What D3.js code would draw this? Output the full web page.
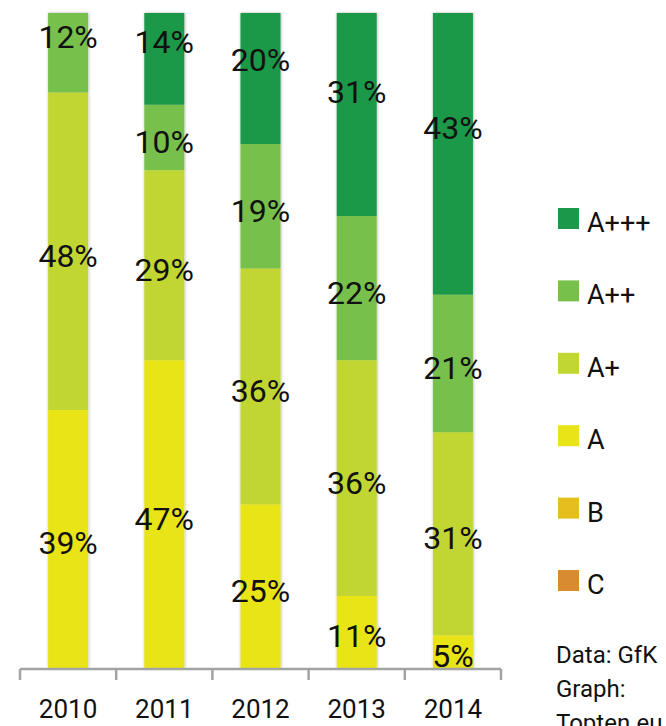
<!DOCTYPE html>
<html>
<head>
<meta charset="utf-8">
<script src="https://cdn.jsdelivr.net/npm/d3@7"></script>
<style>
  html, body { margin: 0; padding: 0; background: #fff; }
  svg { display: block; }
  text { font-family: Roboto, "Open Sans", sans-serif; fill: #111; }
</style>
</head>
<body>
<svg id="chart" width="666" height="726"></svg>
<script>
// ---- data ----
const years = ["2010", "2011", "2012", "2013", "2014"];
const classes = ["C", "B", "A", "A+", "A++", "A+++"]; // bottom to top
const valuesC    = [0, 0, 0, 0, 0];
const valuesB    = [0, 0, 0, 0, 0];
const valuesA    = [39, 47, 25, 11, 5];
const valuesAp   = [48, 29, 36, 36, 31];
const valuesApp  = [12, 10, 19, 22, 21];
const valuesAppp = [0, 14, 20, 31, 43];
const legendOrder = ["A+++", "A++", "A+", "A", "B", "C"];
const sourceLines = ["Data: GfK", "Graph:", "Topten.eu"];

const colors = {
  "A+++": "#1b9849",
  "A++": "#77c04b",
  "A+": "#c1d632",
  "A": "#e8e418",
  "B": "#e6bf1f",
  "C": "#d98c2f"
};

const seriesValues = {
  "C": valuesC, "B": valuesB, "A": valuesA,
  "A+": valuesAp, "A++": valuesApp, "A+++": valuesAppp
};

const table = years.map((y, i) => {
  const row = { year: y };
  classes.forEach(c => row[c] = seriesValues[c][i]);
  return row;
});

const svg = d3.select("#chart");

const defs = svg.append("defs");
const f = defs.append("filter").attr("id", "shadow")
  .attr("x", "-30%").attr("y", "-5%").attr("width", "160%").attr("height", "110%");
f.append("feDropShadow").attr("dx", 0.5).attr("dy", 0).attr("stdDeviation", 1.6)
  .attr("flood-color", "#000").attr("flood-opacity", 0.3);

const x = d3.scaleBand().domain(years).range([20, 501])
  .paddingInner(0.584).paddingOuter(0.292);
const y = d3.scaleLinear().domain([0, 1]).range([668, 13]);

const stack = d3.stack().keys(classes).offset(d3.stackOffsetExpand);
const series = stack(table);

// bars, grouped per year so the shadow wraps the whole column
const cols = svg.append("g").selectAll("g.col")
  .data(years).join("g").attr("class", "col").attr("filter", "url(#shadow)");

cols.each(function (yr, i) {
  const g = d3.select(this);
  series.forEach(s => {
    const d = s[i];
    if (d[1] - d[0] <= 0) return;
    g.append("rect")
      .attr("x", x(yr))
      .attr("width", x.bandwidth())
      .attr("y", y(d[1]))
      .attr("height", y(d[0]) - y(d[1]))
      .attr("fill", colors[s.key]);
  });
});

// percentage labels
const labelG = svg.append("g");
years.forEach((yr, i) => {
  let topKey = null;
  series.forEach(s => { if (s[i][1] - s[i][0] > 0) topKey = s.key; });
  series.forEach(s => {
    const d = s[i];
    const v = seriesValues[s.key][i];
    if (v <= 0) return;
    // top label sits a little above the segment centre
    const hi = s.key === topKey ? d[1] + 0.05 + 0.1 * (d[1] - d[0]) : d[1];
    const cy = (y(d[0]) + y(hi)) / 2 + 4;
    labelG.append("text")
      .attr("x", x(yr) + x.bandwidth() / 2)
      .attr("y", cy + 11.5)
      .attr("text-anchor", "middle")
      .attr("font-size", 32)
      .text(v + "%");
  });
});

// x axis: baseline with boundary ticks
const axisY = 669;
const axisG = svg.append("g");
const [r0, r1] = x.range();
axisG.append("line").attr("x1", r0).attr("x2", r1)
  .attr("y1", axisY).attr("y2", axisY)
  .attr("stroke", "#a3a3a3").attr("stroke-width", 2.5);
const bounds = d3.range(years.length + 1).map(k => r0 + k * x.step());
axisG.selectAll("line.tick").data(bounds).join("line").attr("class", "tick")
  .attr("x1", d => d).attr("x2", d => d)
  .attr("y1", axisY).attr("y2", axisY + 11)
  .attr("stroke", "#a3a3a3").attr("stroke-width", 2.5);
axisG.selectAll("text").data(years).join("text")
  .attr("x", d => x(d) + x.bandwidth() / 2)
  .attr("y", 718)
  .attr("text-anchor", "middle")
  .attr("font-size", 26)
  .text(d => d);

// legend
const lg = svg.append("g");
legendOrder.forEach((k, i) => {
  const top = 208 + i * 72.4;
  lg.append("rect").attr("x", 558).attr("y", top)
    .attr("width", 21).attr("height", 21).attr("fill", colors[k]);
  lg.append("text").attr("x", 587).attr("y", top + 24)
    .attr("font-size", 27).text(k);
});

// source note (last line is cut by the bottom edge, as in the reference)
svg.append("g").selectAll("text").data(sourceLines).join("text")
  .attr("x", 556).attr("y", (d, i) => 663 + i * 34)
  .attr("font-size", 24)
  .text(d => d);
</script>
</body>
</html>
